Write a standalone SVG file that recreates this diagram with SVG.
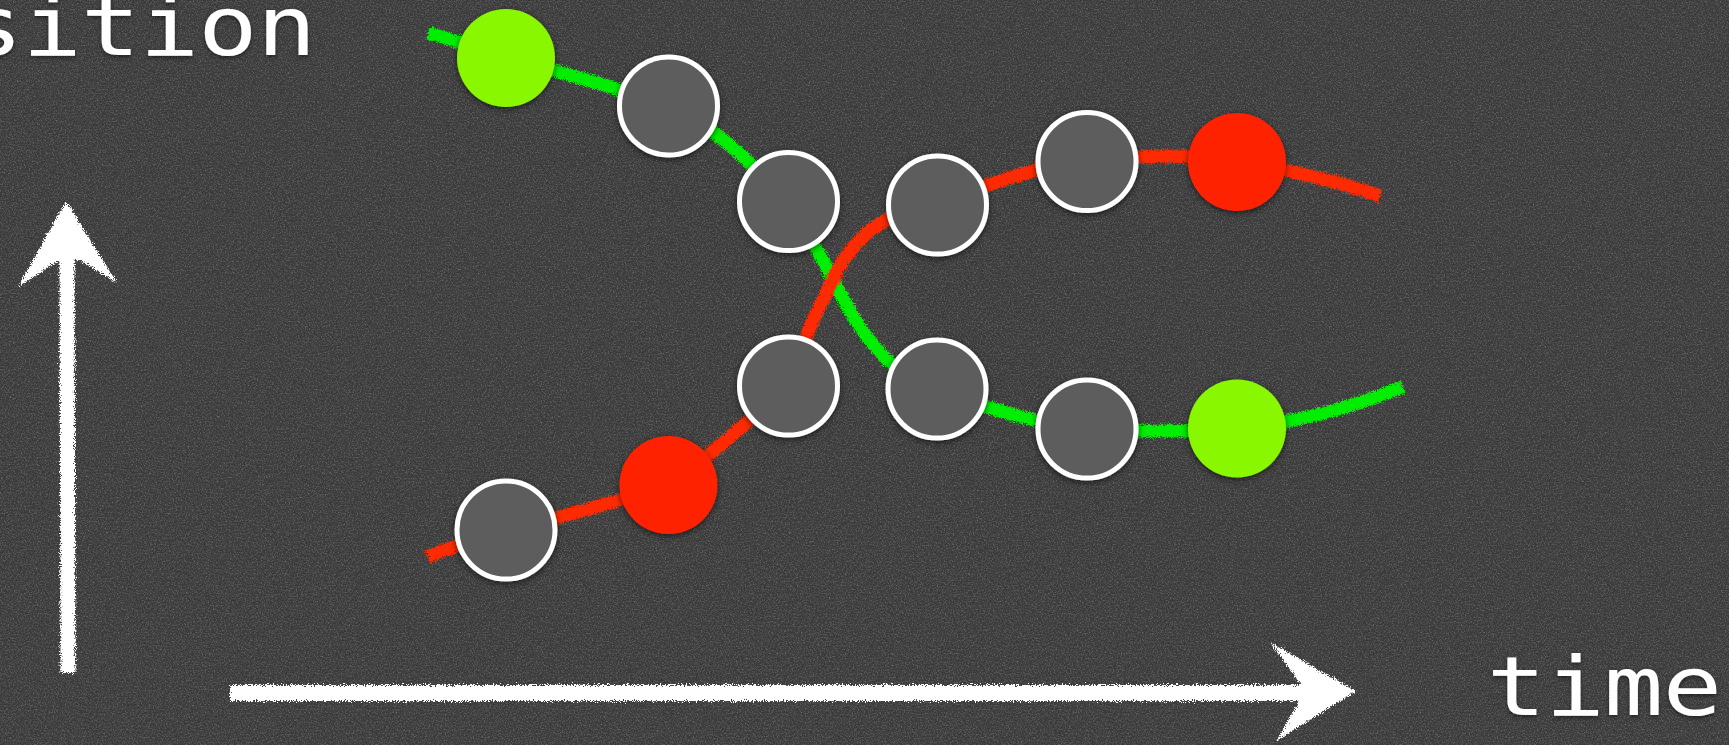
<svg xmlns="http://www.w3.org/2000/svg" width="1729" height="745" viewBox="0 0 1729 745">
<defs>
<filter id="grain" filterUnits="userSpaceOnUse" x="0" y="0" width="1729" height="745">
<feTurbulence type="fractalNoise" baseFrequency="0.75" numOctaves="3" seed="7" result="n"/>
<feColorMatrix in="n" type="matrix" values="0 0 0 0 1  0 0 0 0 1  0 0 0 0 1  1.5 0 0 0 -0.64"/>
</filter>
<filter id="chalk" filterUnits="userSpaceOnUse" x="0" y="0" width="1729" height="745">
<feTurbulence type="fractalNoise" baseFrequency="0.9" numOctaves="2" seed="4" result="t"/>
<feDisplacementMap in="SourceGraphic" in2="t" scale="8" xChannelSelector="R" yChannelSelector="G"/>
</filter>
<filter id="shadow" x="-30%" y="-30%" width="160%" height="160%">
<feDropShadow dx="0" dy="2" stdDeviation="3" flood-color="#000" flood-opacity="0.6"/>
</filter>
<filter id="tshadow" x="-10%" y="-10%" width="120%" height="130%">
<feDropShadow dx="0" dy="2" stdDeviation="2" flood-color="#000" flood-opacity="0.5"/>
</filter>
</defs>
<style>
.green{fill:none;stroke:#00ee00;stroke-width:13;stroke-linecap:butt}
.red{fill:none;stroke:#ff2a00;stroke-width:13;stroke-linecap:butt}
.gray{fill:#5d5d5d;stroke:#ffffff;stroke-width:5}
.lime{fill:#88f700}
.redc{fill:#ff2200}
.axis{fill:none;stroke:#ffffff;stroke-linecap:butt}
.head{fill:#ffffff}
.lbl{font-family:"DejaVu Sans Mono","Liberation Mono",monospace;font-size:82px;fill:#ffffff;letter-spacing:-0.5px}
</style>
<rect width="1729" height="745" fill="#393939"/>
<rect width="1729" height="745" fill="#fff" filter="url(#grain)" opacity="0.4"/>

<g id="axes" filter="url(#chalk)">
<line class="axis" x1="68" y1="673" x2="67" y2="255" stroke-width="15"/>
<polygon class="head" points="66,201 117,283 80,260 56,262 18,287"/>
<line class="axis" x1="230" y1="693" x2="1335" y2="693" stroke-width="16"/>
<polygon class="head" points="1271,643 1356,691 1276,741 1298,704 1300,683"/>
</g>

<g id="labels" filter="url(#tshadow)">
<text class="lbl" transform="scale(1.2,1)" x="-30.2" y="55">sition</text>
<text class="lbl" transform="scale(1.2,1)" x="1239" y="715">time</text>
</g>

<g id="connectors" filter="url(#chalk)">
<path id="green-track" class="green" d="M428,33 C455,40 480,50 506,58 C560,72 620,88 668,106 C700,118 740,150 788,201 C805,225 825,265 844,300 C860,330 885,370 937,392 C980,405 1040,425 1087,429 C1130,432 1190,432 1237,428 C1290,424 1350,408 1403,387"/>
<path id="red-track" class="red" d="M428,557 C455,545 480,537 506,530 C540,525 620,500 668,485 C700,465 750,420 788,386 C798,355 810,325 823,300 C838,270 855,215 937,205 C970,190 1040,165 1087,161 C1130,157 1190,152 1237,162 C1290,170 1340,182 1380,196"/>
</g>

<g id="g1" filter="url(#shadow)"><circle class="lime" cx="506" cy="58" r="49"/></g>
<g id="n1" filter="url(#shadow)"><circle class="gray" cx="668.5" cy="106" r="49"/></g>
<g id="n2" filter="url(#shadow)"><circle class="gray" cx="788.5" cy="201.5" r="49"/></g>
<g id="n3" filter="url(#shadow)"><circle class="gray" cx="937.5" cy="205" r="49"/></g>
<g id="n4" filter="url(#shadow)"><circle class="gray" cx="1087" cy="161.5" r="49"/></g>
<g id="r1" filter="url(#shadow)"><circle class="redc" cx="1237" cy="162" r="49"/></g>
<g id="n5" filter="url(#shadow)"><circle class="gray" cx="506" cy="530" r="49"/></g>
<g id="r2" filter="url(#shadow)"><circle class="redc" cx="668.5" cy="485" r="49"/></g>
<g id="n6" filter="url(#shadow)"><circle class="gray" cx="788.5" cy="386" r="49"/></g>
<g id="n7" filter="url(#shadow)"><circle class="gray" cx="937" cy="389" r="49"/></g>
<g id="n8" filter="url(#shadow)"><circle class="gray" cx="1087" cy="429" r="49"/></g>
<g id="g2" filter="url(#shadow)"><circle class="lime" cx="1237" cy="428.5" r="49"/></g>
</svg>
